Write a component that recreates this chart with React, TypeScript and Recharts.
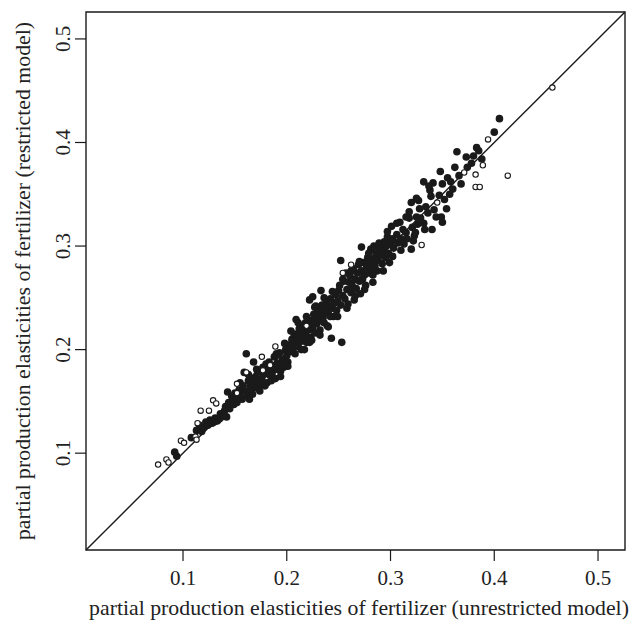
import { ReferenceArea, ReferenceLine, Scatter, ScatterChart, XAxis, YAxis } from "recharts";

// both axes share the same limits, the diagonal runs corner to corner
const AXIS_MIN = 0.0065;
const AXIS_MAX = 0.526;
const TICKS = [0.1, 0.2, 0.3, 0.4, 0.5];

const X_TITLE = "partial production elasticities of fertilizer (unrestricted model)";
const Y_TITLE = "partial production elasticities of fertilizer (restricted model)";

// [unrestricted, restricted]
const filledLow: [number, number][] = [
  [0.092, 0.101], [0.094, 0.097], [0.108, 0.115], [0.113, 0.122], [0.116, 0.127], [0.118, 0.121],
  [0.12, 0.125], [0.122, 0.13], [0.124, 0.127], [0.126, 0.132], [0.128, 0.129], [0.13, 0.13],
  [0.131, 0.134], [0.133, 0.131], [0.135, 0.133], [0.136, 0.138], [0.137, 0.135], [0.139, 0.137],
  [0.14, 0.141], [0.141, 0.145], [0.142, 0.135], [0.143, 0.159], [0.144, 0.149], [0.145, 0.143],
  [0.147, 0.155], [0.148, 0.151], [0.149, 0.147], [0.15, 0.158], [0.151, 0.153], [0.152, 0.149],
  [0.154, 0.161], [0.155, 0.156], [0.157, 0.152], [0.158, 0.165], [0.159, 0.178], [0.16, 0.16],
  [0.161, 0.196], [0.162, 0.156], [0.163, 0.17], [0.164, 0.152], [0.165, 0.165], [0.166, 0.161],
  [0.168, 0.188], [0.168, 0.172], [0.169, 0.167], [0.17, 0.174], [0.171, 0.163], [0.172, 0.178],
  [0.173, 0.17], [0.175, 0.166], [0.176, 0.171], [0.177, 0.183], [0.178, 0.176], [0.179, 0.165],
  [0.181, 0.168], [0.182, 0.18], [0.183, 0.188], [0.184, 0.175], [0.186, 0.178], [0.187, 0.184],
  [0.188, 0.193], [0.189, 0.172], [0.19, 0.181], [0.191, 0.187], [0.193, 0.197], [0.194, 0.179],
  [0.195, 0.185], [0.196, 0.191], [0.197, 0.183], [0.199, 0.2], [0.2, 0.194], [0.201, 0.188],
];

const filledMid: [number, number][] = [
  [0.202, 0.204], [0.203, 0.198], [0.205, 0.207], [0.205, 0.21], [0.206, 0.201], [0.207, 0.215],
  [0.208, 0.206], [0.209, 0.229], [0.21, 0.211], [0.211, 0.203], [0.212, 0.214], [0.213, 0.219],
  [0.214, 0.208], [0.215, 0.222], [0.216, 0.213], [0.217, 0.2], [0.218, 0.217], [0.219, 0.207],
  [0.22, 0.225], [0.221, 0.219], [0.222, 0.207], [0.222, 0.248], [0.223, 0.212], [0.224, 0.228],
  [0.225, 0.251], [0.225, 0.221], [0.226, 0.234], [0.227, 0.216], [0.228, 0.233], [0.229, 0.225],
  [0.23, 0.239], [0.231, 0.229], [0.232, 0.219], [0.233, 0.257], [0.233, 0.236], [0.234, 0.243],
  [0.235, 0.231], [0.236, 0.226], [0.237, 0.239], [0.238, 0.246], [0.239, 0.223], [0.24, 0.235],
  [0.241, 0.242], [0.242, 0.249], [0.243, 0.211], [0.244, 0.24], [0.245, 0.232], [0.246, 0.245],
  [0.247, 0.253], [0.248, 0.238], [0.249, 0.247], [0.25, 0.257], [0.215, 0.214], [0.22, 0.212],
  [0.226, 0.226], [0.23, 0.232], [0.234, 0.228], [0.238, 0.236], [0.242, 0.232], [0.228, 0.242],
  [0.218, 0.226], [0.212, 0.22],
];

const filledUpperMid: [number, number][] = [
  [0.251, 0.262], [0.252, 0.286], [0.252, 0.243], [0.253, 0.207], [0.254, 0.252], [0.255, 0.266],
  [0.256, 0.249], [0.257, 0.274], [0.258, 0.258], [0.259, 0.244], [0.26, 0.265], [0.261, 0.271],
  [0.262, 0.255], [0.263, 0.262], [0.264, 0.278], [0.265, 0.248], [0.266, 0.268], [0.267, 0.259],
  [0.268, 0.274], [0.269, 0.282], [0.27, 0.266], [0.271, 0.254], [0.272, 0.299], [0.272, 0.276],
  [0.273, 0.268], [0.274, 0.284], [0.275, 0.272], [0.276, 0.262], [0.277, 0.28], [0.278, 0.289],
  [0.279, 0.274], [0.28, 0.284], [0.281, 0.297], [0.282, 0.277], [0.283, 0.265], [0.284, 0.3],
  [0.284, 0.288], [0.285, 0.281], [0.286, 0.293], [0.287, 0.276], [0.288, 0.286], [0.289, 0.303],
  [0.29, 0.291], [0.291, 0.298], [0.292, 0.283], [0.293, 0.295], [0.294, 0.304], [0.295, 0.289],
  [0.296, 0.3], [0.297, 0.309], [0.298, 0.293], [0.299, 0.284], [0.3, 0.303],
];

const filledHigh: [number, number][] = [
  [0.301, 0.319], [0.302, 0.307], [0.303, 0.298], [0.306, 0.311], [0.307, 0.303], [0.309, 0.323],
  [0.31, 0.307], [0.312, 0.316], [0.313, 0.302], [0.315, 0.313], [0.316, 0.307], [0.318, 0.333],
  [0.318, 0.327], [0.32, 0.342], [0.32, 0.297], [0.321, 0.318], [0.323, 0.31], [0.324, 0.313],
  [0.325, 0.346], [0.325, 0.328], [0.326, 0.321], [0.328, 0.336], [0.329, 0.327], [0.332, 0.362],
  [0.332, 0.322], [0.334, 0.338], [0.336, 0.332], [0.338, 0.354], [0.339, 0.348], [0.34, 0.316],
  [0.341, 0.361], [0.342, 0.335], [0.347, 0.349], [0.348, 0.372], [0.349, 0.328], [0.35, 0.323],
  [0.352, 0.345], [0.354, 0.336], [0.355, 0.366], [0.358, 0.362], [0.36, 0.355], [0.364, 0.391],
  [0.366, 0.368], [0.373, 0.386], [0.374, 0.376], [0.378, 0.38], [0.383, 0.395], [0.385, 0.392],
  [0.388, 0.384], [0.4, 0.41], [0.405, 0.423],
];

// points on the edges of the band
const filledEdge: [number, number][] = [
  [0.155, 0.168], [0.163, 0.176], [0.167, 0.157], [0.171, 0.181], [0.174, 0.16], [0.18, 0.186],
  [0.185, 0.17], [0.19, 0.196], [0.194, 0.174], [0.198, 0.206], [0.201, 0.184], [0.204, 0.218],
  [0.208, 0.196], [0.211, 0.226], [0.214, 0.2], [0.219, 0.232], [0.224, 0.209], [0.227, 0.241],
  [0.232, 0.214], [0.236, 0.25], [0.24, 0.222], [0.244, 0.256], [0.249, 0.232], [0.254, 0.268],
  [0.258, 0.24], [0.262, 0.276], [0.266, 0.252], [0.27, 0.285], [0.275, 0.258], [0.279, 0.293],
  [0.283, 0.272], [0.288, 0.298], [0.293, 0.276], [0.297, 0.314], [0.302, 0.29], [0.306, 0.322],
  [0.31, 0.296], [0.315, 0.328], [0.322, 0.305], [0.327, 0.344], [0.333, 0.316], [0.337, 0.358],
  [0.344, 0.328], [0.35, 0.36], [0.357, 0.35], [0.362, 0.376], [0.368, 0.36], [0.38, 0.387],
];

const openPoints: [number, number][] = [
  [0.076, 0.089], [0.084, 0.094], [0.086, 0.091], [0.098, 0.112], [0.101, 0.11], [0.112, 0.116],
  [0.113, 0.113], [0.114, 0.129], [0.117, 0.141], [0.125, 0.141], [0.129, 0.151], [0.132, 0.148],
  [0.152, 0.158], [0.152, 0.167], [0.161, 0.178], [0.176, 0.193], [0.177, 0.18], [0.184, 0.185],
  [0.189, 0.203], [0.219, 0.223], [0.254, 0.274], [0.262, 0.282], [0.33, 0.301], [0.345, 0.342],
  [0.371, 0.371], [0.382, 0.369], [0.389, 0.378], [0.382, 0.357], [0.386, 0.357], [0.394, 0.403],
  [0.413, 0.368], [0.456, 0.453],
];

const FONT = "'Liberation Serif', 'Times New Roman', serif";
const INK = "#1a1a1a";
const TEXT = "#222";

const toRows = (pts: [number, number][]) => pts.map(([x, y]) => ({ x, y }));
const filledRows = toRows([...filledLow, ...filledMid, ...filledUpperMid, ...filledHigh, ...filledEdge]);
const openRows = toRows(openPoints);

const FilledDot = (props: any) => <circle cx={props.cx} cy={props.cy} r={3.8} fill={INK} />;
const OpenDot = (props: any) => (
  <circle cx={props.cx} cy={props.cy} r={2.7} fill="#fff" stroke={INK} strokeWidth={1.1} />
);

const YTick = (props: any) => (
  <text
    transform={`translate(70, ${props.y}) rotate(-90)`}
    textAnchor="middle"
    fontFamily={FONT}
    fontSize={21}
    fill={TEXT}
  >
    {props.payload.value}
  </text>
);

export default function App() {
  return (
    <div style={{ position: "absolute", left: 0, top: 0, width: 641, height: 625, background: "#fff" }}>
      <ScatterChart width={641} height={625} margin={{ top: 12, right: 16, bottom: 0, left: 0 }}>
        <XAxis
          type="number"
          dataKey="x"
          domain={[AXIS_MIN, AXIS_MAX]}
          ticks={TICKS}
          allowDataOverflow
          height={75}
          axisLine={false}
          tickSize={11}
          tickMargin={9}
          tickLine={{ stroke: INK, strokeWidth: 1.2 }}
          tick={{ fontFamily: FONT, fontSize: 21, fill: TEXT }}
          label={() => (
            <text x={359} y={615} textAnchor="middle" fontFamily={FONT} fontSize={21.8} fill={TEXT}>
              {X_TITLE}
            </text>
          )}
        />
        <YAxis
          type="number"
          dataKey="y"
          domain={[AXIS_MIN, AXIS_MAX]}
          ticks={TICKS}
          allowDataOverflow
          width={86}
          axisLine={false}
          tickSize={11}
          tickLine={{ stroke: INK, strokeWidth: 1.2 }}
          tick={<YTick />}
          label={() => (
            <text
              transform="translate(30, 281) rotate(-90)"
              textAnchor="middle"
              fontFamily={FONT}
              fontSize={21.8}
              fill={TEXT}
            >
              {Y_TITLE}
            </text>
          )}
        />
        <ReferenceArea
          x1={AXIS_MIN}
          x2={AXIS_MAX}
          y1={AXIS_MIN}
          y2={AXIS_MAX}
          fill="none"
          stroke={INK}
          strokeWidth={1.4}
          ifOverflow="visible"
        />
        <ReferenceLine
          segment={[
            { x: AXIS_MIN, y: AXIS_MIN },
            { x: AXIS_MAX, y: AXIS_MAX },
          ]}
          stroke={INK}
          strokeWidth={1.4}
          ifOverflow="visible"
        />
        <Scatter data={filledRows} shape={FilledDot} isAnimationActive={false} />
        <Scatter data={openRows} shape={OpenDot} isAnimationActive={false} />
      </ScatterChart>
    </div>
  );
}
